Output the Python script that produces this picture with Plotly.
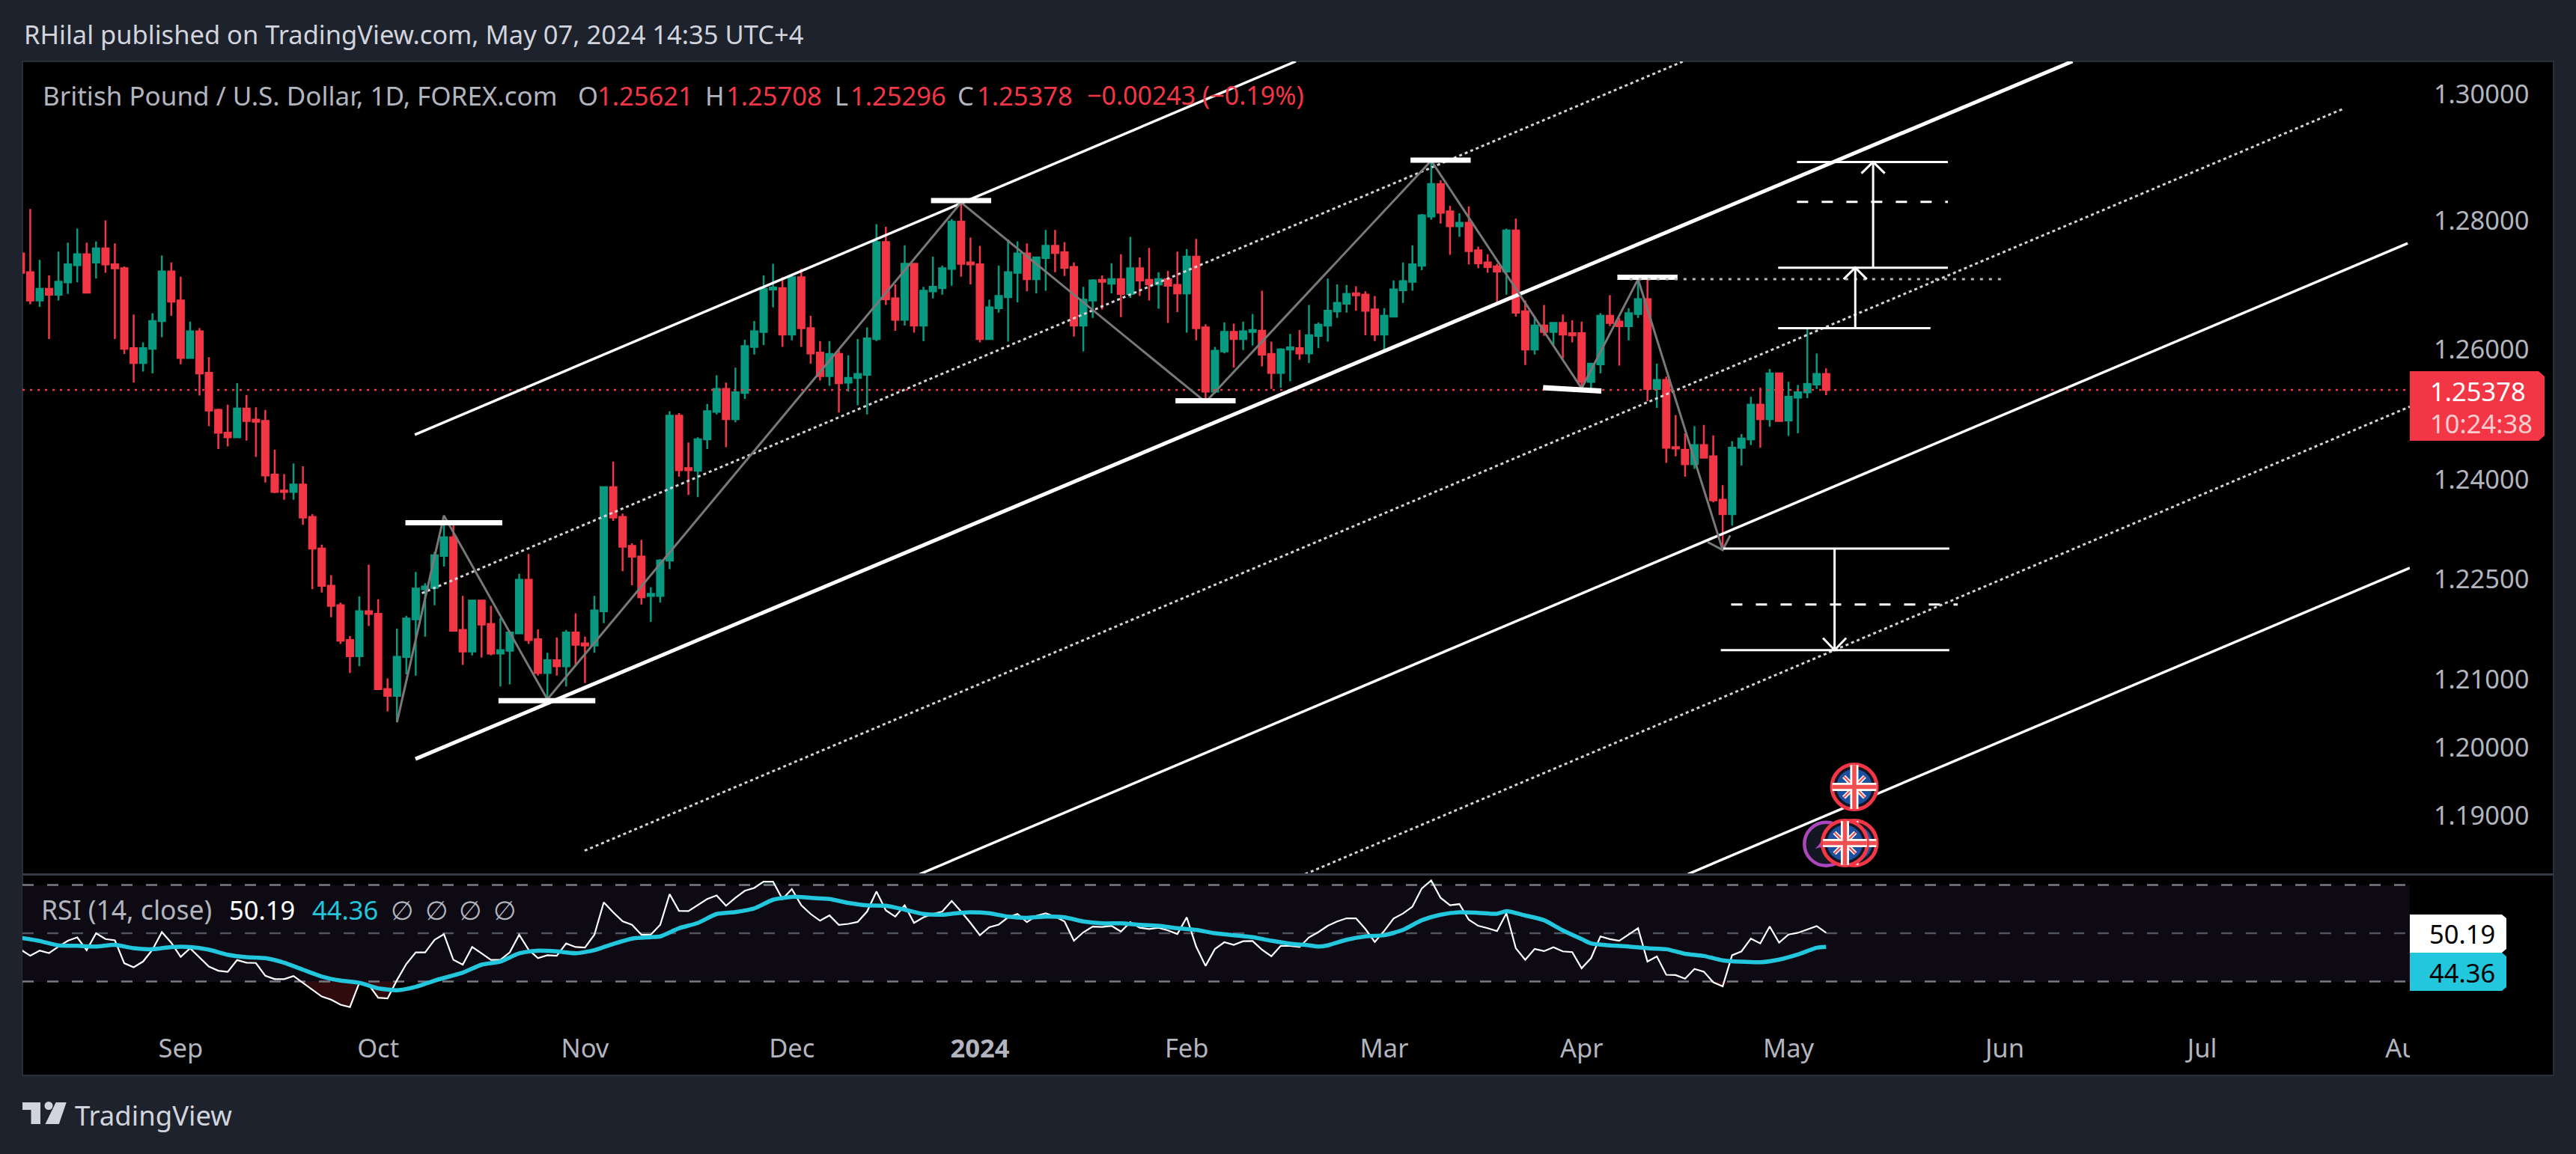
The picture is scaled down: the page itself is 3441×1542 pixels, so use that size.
import math
import plotly.graph_objects as go

W, H = 3441, 1542

# ---------- price data (daily GBP/USD bars) ----------
opens = [1.2749,1.2720,1.2676,1.2694,1.2685,1.2704,1.2731,1.2748,1.2735,1.2757,
1.2732,1.2726,1.2602,1.2579,1.2601,1.2644,1.2721,1.2676,1.2587,1.2628,
1.2564,1.2507,1.2472,1.2465,1.2509,1.2492,1.2490,1.2408,1.2384,1.2382,
1.2393,1.2344,1.2296,1.2240,1.2211,1.2159,1.2135,1.2202,1.2198,1.2086,
1.2076,1.2134,1.2190,1.2235,1.2237,1.2285,1.2313,1.2174,1.2142,1.2218,
1.2183,1.2139,1.2143,1.2169,1.2249,1.2160,1.2110,1.2129,1.2120,1.2170,
1.2154,1.2151,1.2202,1.2389,1.2344,1.2300,1.2284,1.2225,1.2225,1.2278,
1.2498,1.2418,1.2414,1.2462,1.2504,1.2539,1.2493,1.2533,1.2604,1.2627,
1.2693,1.2695,1.2623,1.2712,1.2633,1.2595,1.2559,1.2593,1.2549,1.2556,
1.2561,1.2616,1.2767,1.2679,1.2646,1.2733,1.2637,1.2690,1.2695,1.2725,
1.2799,1.2735,1.2732,1.2616,1.2664,1.2681,1.2719,1.2749,1.2709,1.2742,
1.2761,1.2751,1.2728,1.2637,1.2676,1.2708,1.2702,1.2709,1.2686,1.2726,
1.2708,1.2701,1.2709,1.2700,1.2687,1.2744,1.2634,1.2535,1.2597,1.2627,
1.2616,1.2627,1.2629,1.2593,1.2564,1.2600,1.2602,1.2594,1.2621,1.2637,
1.2659,1.2671,1.2687,1.2685,1.2662,1.2623,1.2651,1.2692,1.2705,1.2730,
1.2807,1.2858,1.2815,1.2792,1.2797,1.2754,1.2735,1.2729,1.2721,1.2785,
1.2659,1.2600,1.2637,1.2627,1.2641,1.2625,1.2625,1.2550,1.2577,1.2652,
1.2643,1.2636,1.2655,1.2678,1.2539,1.2553,1.2450,1.2446,1.2424,1.2453,
1.2436,1.2370,1.2348,1.2449,1.2462,1.2515,1.2493,1.2563,1.2491,1.2526,
1.2534,1.2546,1.25621]
highs = [1.2749,1.2819,1.2739,1.2715,1.2752,1.2766,1.2788,1.2766,1.2768,1.2801,
1.2765,1.2729,1.2654,1.2611,1.2656,1.2746,1.2735,1.2713,1.2643,1.2633,
1.2588,1.2509,1.2515,1.2548,1.2530,1.2511,1.2507,1.2446,1.2409,1.2425,
1.2421,1.2348,1.2302,1.2256,1.2215,1.2165,1.2224,1.2272,1.2220,1.2102,
1.2176,1.2195,1.2261,1.2244,1.2291,1.2337,1.2332,1.2225,1.2218,1.2218,
1.2210,1.2192,1.2172,1.2258,1.2288,1.2175,1.2140,1.2163,1.2174,1.2199,
1.2164,1.2225,1.2389,1.2428,1.2349,1.2304,1.2309,1.2238,1.2280,1.2505,
1.2502,1.2457,1.2465,1.2516,1.2560,1.2549,1.2572,1.2615,1.2644,1.2715,
1.2733,1.2712,1.2716,1.2725,1.2652,1.2613,1.2613,1.2601,1.2591,1.2616,
1.2634,1.2795,1.2791,1.2701,1.2762,1.2733,1.2697,1.2744,1.2730,1.2803,
1.2829,1.2774,1.2761,1.2677,1.2730,1.2771,1.2768,1.2765,1.2744,1.2786,
1.2786,1.2767,1.2735,1.2697,1.2709,1.2715,1.2734,1.2748,1.2775,1.2743,
1.2758,1.2720,1.2722,1.2752,1.2756,1.2772,1.2639,1.2604,1.2642,1.2640,
1.2643,1.2655,1.2691,1.2612,1.2602,1.2624,1.2630,1.2669,1.2642,1.2710,
1.2701,1.2700,1.2698,1.2690,1.2683,1.2664,1.2707,1.2735,1.2762,1.2811,
1.2895,1.2864,1.2824,1.2812,1.2823,1.2760,1.2748,1.2733,1.2788,1.2804,
1.2676,1.2652,1.2669,1.2641,1.2654,1.2645,1.2643,1.2579,1.2656,1.2684,
1.2649,1.2664,1.2709,1.2708,1.2578,1.2558,1.2499,1.2471,1.2482,1.2484,
1.2468,1.2392,1.2459,1.2470,1.2527,1.2541,1.2570,1.2564,1.2550,1.2545,
1.2634,1.2594,1.25708]
lows = [1.2719,1.2670,1.2666,1.2616,1.2676,1.2686,1.2704,1.2688,1.2710,1.2719,
1.2616,1.2593,1.2549,1.2566,1.2563,1.2619,1.2652,1.2577,1.2586,1.2529,
1.2482,1.2447,1.2451,1.2465,1.2460,1.2435,1.2396,1.2380,1.2370,1.2370,
1.2332,1.2235,1.2230,1.2193,1.2153,1.2110,1.2120,1.2180,1.2086,1.2053,
1.2037,1.2108,1.2106,1.2164,1.2211,1.2269,1.2172,1.2122,1.2136,1.2133,
1.2136,1.2090,1.2093,1.2169,1.2153,1.2106,1.2071,1.2106,1.2090,1.2121,
1.2095,1.2140,1.2184,1.2338,1.2262,1.2241,1.2212,1.2186,1.2215,1.2265,
1.2405,1.2377,1.2374,1.2447,1.2500,1.2450,1.2488,1.2524,1.2592,1.2607,
1.2665,1.2604,1.2614,1.2604,1.2578,1.2552,1.2544,1.2503,1.2535,1.2514,
1.2500,1.2613,1.2669,1.2629,1.2637,1.2626,1.2613,1.2679,1.2685,1.2699,
1.2713,1.2701,1.2611,1.2616,1.2657,1.2612,1.2673,1.2690,1.2687,1.2691,
1.2720,1.2714,1.2620,1.2597,1.2649,1.2662,1.2687,1.2650,1.2680,1.2683,
1.2676,1.2663,1.2641,1.2658,1.2626,1.2614,1.2518,1.2532,1.2594,1.2572,
1.2599,1.2606,1.2574,1.2539,1.2541,1.2551,1.2584,1.2579,1.2602,1.2612,
1.2649,1.2657,1.2660,1.2622,1.2613,1.2600,1.2651,1.2672,1.2691,1.2723,
1.2802,1.2796,1.2747,1.2775,1.2732,1.2726,1.2719,1.2669,1.2685,1.2651,
1.2576,1.2592,1.2621,1.2606,1.2586,1.2611,1.2538,1.2539,1.2563,1.2636,
1.2575,1.2614,1.2649,1.2520,1.2510,1.2426,1.2436,1.2405,1.2417,1.2433,
1.2366,1.2298,1.2331,1.2422,1.2453,1.2449,1.2481,1.2490,1.2467,1.2471,
1.2525,1.2539,1.25296]
closes = [1.2719,1.2676,1.2694,1.2685,1.2705,1.2732,1.2748,1.2688,1.2757,1.2732,
1.2726,1.2601,1.2579,1.2602,1.2644,1.2721,1.2674,1.2587,1.2628,1.2563,
1.2506,1.2472,1.2465,1.2509,1.2490,1.2489,1.2407,1.2382,1.2382,1.2393,
1.2343,1.2296,1.2240,1.2210,1.2158,1.2135,1.2202,1.2198,1.2086,1.2076,
1.2134,1.2191,1.2236,1.2239,1.2286,1.2313,1.2173,1.2142,1.2218,1.2182,
1.2139,1.2144,1.2170,1.2249,1.2159,1.2110,1.2129,1.2120,1.2170,1.2152,
1.2151,1.2203,1.2389,1.2343,1.2299,1.2284,1.2223,1.2228,1.2278,1.2498,
1.2415,1.2415,1.2462,1.2505,1.2539,1.2493,1.2534,1.2605,1.2628,1.2694,
1.2696,1.2623,1.2712,1.2633,1.2594,1.2559,1.2593,1.2548,1.2556,1.2562,
1.2617,1.2767,1.2678,1.2646,1.2733,1.2637,1.2691,1.2697,1.2726,1.2799,
1.2733,1.2732,1.2616,1.2665,1.2683,1.2720,1.2749,1.2709,1.2743,1.2761,
1.2750,1.2727,1.2637,1.2677,1.2707,1.2705,1.2709,1.2686,1.2726,1.2707,
1.2701,1.2709,1.2699,1.2687,1.2744,1.2633,1.2535,1.2598,1.2627,1.2616,
1.2628,1.2630,1.2592,1.2564,1.2600,1.2603,1.2594,1.2622,1.2638,1.2660,
1.2672,1.2686,1.2684,1.2660,1.2623,1.2652,1.2693,1.2706,1.2732,1.2809,
1.2858,1.2813,1.2792,1.2797,1.2753,1.2734,1.2728,1.2721,1.2785,1.2657,
1.2600,1.2637,1.2627,1.2641,1.2623,1.2622,1.2550,1.2578,1.2652,1.2641,
1.2636,1.2656,1.2678,1.2539,1.2553,1.2449,1.2448,1.2424,1.2453,1.2434,
1.2369,1.2348,1.2449,1.2463,1.2515,1.2493,1.2563,1.2490,1.2527,1.2534,
1.2547,1.2562,1.25378]
bars = list(range(len(closes)))

# ---------- RSI ----------
rsi = [43.2,40.7,42.8,41.8,44.5,46.9,48.3,43.0,50.0,47.6,
47.1,37.6,35.9,38.3,43.2,50.5,46.1,40.2,43.8,40.1,
36.2,34.5,34.0,38.9,37.8,37.7,32.4,31.0,31.0,32.3,
29.5,26.6,23.8,22.5,20.4,19.4,29.5,28.7,23.3,23.0,
30.6,37.3,42.1,42.1,47.3,49.6,39.0,37.0,44.3,41.7,
39.0,39.0,42.1,49.4,43.2,39.7,40.9,40.7,45.8,44.3,
44.1,49.4,62.8,58.7,55.0,53.5,49.4,49.4,53.5,66.2,
59.3,59.2,61.8,64.2,65.7,61.4,64.7,67.6,68.8,71.4,
71.4,64.2,68.3,61.6,58.0,55.2,57.4,53.5,53.9,54.7,
59.0,67.3,59.5,56.9,61.6,54.3,56.6,58.0,59.0,63.4,
59.0,54.3,49.2,52.5,53.6,56.6,58.0,54.6,57.2,58.3,
56.9,54.9,46.9,50.4,52.8,52.6,53.1,50.7,54.6,52.3,
51.8,52.3,51.2,49.7,56.6,44.5,36.5,43.5,46.3,45.2,
46.7,46.8,43.2,40.5,44.8,44.8,44.3,48.3,50.5,53.1,
54.9,56.2,56.2,51.8,46.4,51.0,56.1,58.2,61.0,68.6,
71.9,64.7,61.6,62.1,55.6,53.1,52.1,50.9,58.3,43.8,
39.0,43.5,42.6,44.2,42.5,42.2,35.5,39.7,48.7,47.6,
46.9,49.4,52.1,38.3,40.4,32.8,32.7,31.2,35.2,34.1,
29.7,28.0,40.9,42.5,47.8,45.8,52.8,46.1,49.5,50.2,
51.7,53.0,50.19]
rsi_ma_bars = [0,2,4,6,8,10,12,14,16,18,20,22,24,26,28,30,32,34,36,38,40,42,44,47,49,51,53,55,57,59,
61,63,65,67,68,70,72,74,76,78,80,82,84,86,88,90,92,94,96,98,100,101,103,105,107,109,111,113,115,117,
119,121,123,125,127,129,131,133,135,137,138,139,141,143,145,147,149,151,153,155,157,158,160,162,164,166,167,169,171,173,
175,177,179,181,183,185,187,189,191,192]
rsi_ma = [48.1,46.8,45.0,44.8,44.5,45.2,43.8,43.4,44.3,44.3,43.2,41.1,40.1,39.7,37.8,34.9,32.1,30.4,29.5,27.2,26.4,27.8,30.4,33.7,37.0,38.3,41.7,42.8,42.5,41.7,
43.0,45.6,47.8,48.4,48.7,52.1,54.3,58.0,58.8,60.3,63.9,65.1,64.7,64.2,62.6,61.6,61.4,59.8,58.0,57.7,58.5,58.7,58.3,56.9,56.4,56.9,56.6,54.9,54.1,54.1,
53.5,53.1,52.1,51.4,50.0,49.2,48.4,46.9,45.7,45.0,44.5,45.0,47.3,48.7,49.2,51.4,55.4,57.7,58.7,58.5,58.1,59.2,57.4,55.4,51.2,47.6,45.8,45.0,44.5,43.8,
43.4,41.5,40.6,38.8,38.2,38.0,39.1,41.2,44.0,44.36]

# ---------- axis ticks ----------
price_ticks = [1.19,1.20,1.21,1.225,1.24,1.26,1.28,1.30]
price_tick_labels = ["1.19000","1.20000","1.21000","1.22500","1.24000","1.26000","1.28000","1.30000"]
month_bars = [17,38,60,82,102,124,145,166,188,211,232,254.05]
month_labels = ["Sep","Oct","Nov","Dec","<b>2024</b>","Feb","Mar","Apr","May","Jun","Jul","Aug"]
x_range = [0.172,254.08]
price_range = [1.1815,1.3053]
rsi_range = [12.5,73.9]
last_price = 1.25378

# ---------- drawings: (bar, price) endpoints ----------
channel_solid = [([41.9,135.6],[1.2469,1.3053],3.5),
                 ([41.97,218.2],[1.1983,1.3053],5),
                 ([95.6,253.85],[1.1815,1.2765],3.5),
                 ([177.3,254.08],[1.1815,1.2267],3.5)]
channel_dotted = [([42.65,176.8],[1.2229,1.3053]),
                  ([59.96,247.1],[1.1849,1.2978]),
                  ([136.6,254.08],[1.1815,1.2512])]
zigzag_bars = [40,45,56,100,126,150,166,172,181]
zigzag_prices = [1.2037,1.2346,1.2071,1.2829,1.2519,1.2895,1.2540,1.2709,1.2294]
zig_head_bars = [179.4,181,181.8]
zig_head_prices = [1.2306,1.2294,1.2316]
swing_levels = [([40.9,51.2],[1.2335,1.2335]),
                ([50.8,61.1],[1.2069,1.2069]),
                ([96.8,103.2],[1.2832,1.2832]),
                ([122.8,129.2],[1.2521,1.2521]),
                ([147.8,154.2],[1.2896,1.2896]),
                ([161.9,168.1],[1.2541,1.2536]),
                ([169.8,176.2],[1.2712,1.2712])]
target_solid = [([188.9,204.95],1.2893),([186.9,204.95],1.2727),([186.9,203.1],1.2633),
                ([181.07,205.1],1.2296),([180.8,205.1],1.2144)]
target_dashed = [([188.9,204.95],1.2830),([181.9,206.0],1.2212)]
level_dotted = ([171.1,210.7],1.2709)
arrows = [(195.1,1.2633,1.2727,1.2709),(197.0,1.2727,1.2893,1.2875),(192.9,1.2296,1.2144,1.2162)]
arrow_half_bars = 1.24
uk_event_bars = [195,195,194]
uk_event_prices = [1.19419,1.18602,1.18602]
other_event_bar = [192]
other_event_price = [1.18587]

BG = "#1e222d"
UP, DOWN = "#089981", "#f23645"
CYAN = "#22c7dd"
TXT = "#b2b5be"
FONT = "Noto Sans"
FS = 34.5
fig = go.Figure()

def X(px): return px/W
def Y(py): return 1-py/H

def line(xs, ys, color="#ffffff", width=3, dash="solid"):
    fig.add_trace(go.Scatter(x=xs, y=ys, mode="lines", xaxis="x", yaxis="y", hoverinfo="skip",
                             line=dict(color=color, width=width, dash=dash), showlegend=False))

fig.add_trace(go.Candlestick(x=bars, open=opens, high=highs, low=lows, close=closes, xaxis="x", yaxis="y",
    increasing=dict(line=dict(color=UP, width=2.5), fillcolor=UP),
    decreasing=dict(line=dict(color=DOWN, width=2.5), fillcolor=DOWN),
    whiskerwidth=0, showlegend=False, hoverinfo="skip"))

line(x_range, [last_price, last_price], DOWN, 2.5, "3px,7px")
for xs, ys in channel_dotted:
    line(xs, ys, "#d4d4d8", 3, "4px,4px")
for xs, ys, w in channel_solid:
    line(xs, ys, "#ffffff", w)
line(zigzag_bars, zigzag_prices, "#787878", 3)
line(zig_head_bars, zig_head_prices, "#787878", 3)
for xs, ys in swing_levels:
    line(xs, ys, "#ffffff", 7)
for xs, p in target_solid:
    line(xs, [p, p], "#ffffff", 3)
for xs, p in target_dashed:
    line(xs, [p, p], "#ffffff", 3, "15px,18px")
line(level_dotted[0], [level_dotted[1]]*2, "#b8b8bc", 3, "4px,8px")
for b, p0, p1, ph in arrows:
    line([b, b], [p0, p1], "#ffffff", 3)
    line([b-arrow_half_bars, b, b+arrow_half_bars], [ph, p1, ph], "#ffffff", 3)

# events
def ev(xs, ys, sym, size, color, lw=0, lc=None):
    fig.add_trace(go.Scatter(x=xs, y=ys, mode="markers", xaxis="x", yaxis="y", hoverinfo="skip", showlegend=False,
        cliponaxis=False,
        marker=dict(symbol=sym, size=size, color=color, line=dict(width=lw, color=lc or color))))
ev(other_event_bar, other_event_price, "circle", 58, "#131722", 4.5, "#ab47bc")
ev([b-0.3 for b in other_event_bar], other_event_price, "star-triangle-up", 16, "#ab47bc")
for b, p in zip(uk_event_bars, uk_event_prices):
    ev([b],[p],"circle",60,"#131722",5,DOWN)
    ev([b],[p],"circle",48,"#1c4fa0")
    ev([b],[p],"x-thin",28,"#fff",5.5,"#ffffff")
    ev([b],[p],"x-thin",28,"#f05050",2.2,"#f05050")
    ev([b],[p],"cross-thin",42,"#fff",11,"#ffffff")
    ev([b],[p],"cross-thin",42,"#f05050",5.5,"#f05050")

# RSI pane
below = [min(v,30) for v in rsi]
above = [max(v,70) for v in rsi]
fig.add_trace(go.Scatter(x=bars,y=[30]*len(bars),mode="lines",line=dict(width=0),xaxis="x2",yaxis="y2",hoverinfo="skip",showlegend=False))
fig.add_trace(go.Scatter(x=bars,y=below,mode="lines",line=dict(width=0),fill="tonexty",fillcolor="rgba(242,54,69,0.2)",xaxis="x2",yaxis="y2",hoverinfo="skip",showlegend=False))
fig.add_trace(go.Scatter(x=bars,y=[70]*len(bars),mode="lines",line=dict(width=0),xaxis="x2",yaxis="y2",hoverinfo="skip",showlegend=False))
fig.add_trace(go.Scatter(x=bars,y=above,mode="lines",line=dict(width=0),fill="tonexty",fillcolor="rgba(8,153,129,0.2)",xaxis="x2",yaxis="y2",hoverinfo="skip",showlegend=False))
for lvl, col in [(70,"#787b86"),(50,"#50535e"),(30,"#787b86")]:
    fig.add_trace(go.Scatter(x=x_range,y=[lvl,lvl],mode="lines",line=dict(color=col,width=2.5,dash="15px,18px"),xaxis="x2",yaxis="y2",hoverinfo="skip",showlegend=False))
fig.add_trace(go.Scatter(x=bars,y=rsi,mode="lines",line=dict(color="#ffffff",width=2.2),xaxis="x2",yaxis="y2",hoverinfo="skip",showlegend=False))
fig.add_trace(go.Scatter(x=rsi_ma_bars,y=rsi_ma,mode="lines",line=dict(color=CYAN,width=5.5,shape="spline",smoothing=0.6),xaxis="x2",yaxis="y2",hoverinfo="skip",showlegend=False))

# frame shapes
PL, PR, FR = 30, 3219, 3411
shapes = [
    dict(type="rect",xref="paper",yref="paper",x0=X(PL),x1=X(FR),y0=Y(82),y1=Y(1437),fillcolor="#000000",line=dict(color="#2a2e39",width=2),layer="below"),
    dict(type="rect",xref="paper",yref="paper",x0=X(PL),x1=X(PR),y0=Y(1183),y1=Y(1312),fillcolor="#0d0a14",line=dict(width=0),layer="below"),
    dict(type="line",xref="paper",yref="paper",x0=X(PL),x1=X(FR),y0=Y(1168.5),y1=Y(1168.5),line=dict(color="#363a45",width=3),layer="above"),
    dict(type="rect",xref="paper",yref="paper",x0=X(PR),x1=X(3262),y0=Y(1376),y1=Y(1428),fillcolor="#000000",line=dict(width=0),layer="above"),
]
def px_path(pts):
    return "M"+" L".join(f"{X(a):.6f},{Y(b):.6f}" for a,b in pts)+" Z"
def poly(pts,color):
    shapes.append(dict(type="path",xref="paper",yref="paper",path=px_path(pts),fillcolor=color,line=dict(width=0),layer="above"))
# price tag and RSI tags
poly([(3219,496),(3391,496),(3399,503),(3399,582),(3391,589),(3219,589)],DOWN)
poly([(3219,1222),(3342,1222),(3348,1227),(3348,1268),(3342,1273),(3219,1273)],"#ffffff")
poly([(3219,1273),(3342,1273),(3348,1278),(3348,1319),(3342,1324),(3219,1324)],CYAN)
# TradingView logo
LOGO="#d1d4dc"
poly([(30,1473),(54,1473),(54,1502),(41.5,1502),(41.5,1483),(30,1483)],LOGO)
poly([(74.6,1473),(88.7,1473),(78.8,1502),(60.5,1502)],LOGO)
shapes.append(dict(type="circle",xref="paper",yref="paper",x0=X(59.5),x1=X(70.5),y0=Y(1472),y1=Y(1483),fillcolor=LOGO,line=dict(width=0),layer="above"))

annots=[]
def t(px,py,text,color=TXT,size=FS,anchor="left"):
    annots.append(dict(xref="paper",yref="paper",x=X(px),y=Y(py),text=text,showarrow=False,xanchor=anchor,yanchor="middle",
                       font=dict(family=FONT,size=size,color=color),bgcolor="rgba(0,0,0,0)",borderpad=0,align="left"))
t(31,45,"RHilal published on TradingView.com, May 07, 2024 14:35 UTC+4","#d1d4dc",34.5)
t(56,127,"British Pound / U.S. Dollar, 1D, FOREX.com",TXT,35)
t(771,127,"O"); t(797,127,"1.25621",DOWN)
t(941,127,"H"); t(969,127,"1.25708",DOWN)
t(1114,127,"L"); t(1135,127,"1.25296",DOWN)
t(1278,127,"C"); t(1304,127,"1.25378",DOWN)
t(1451,127,"−0.00243 (−0.19%)",DOWN,34)
t(54,1215,"RSI (14, close)",TXT,35.5)
t(305,1215,"50.19","#ffffff"); t(416,1215,"44.36",CYAN)
for xx in (537,583,628,674):
    t(xx,1215,"∅",TXT,FS,"center")
t(3245,522,"1.25378","#ffffff")
t(3245,565,"10:24:38","rgba(255,255,255,0.75)")
t(3244,1247,"50.19","#000000")
t(3244,1299,"44.36","#000000")
t(99,1490,"TradingView","#d1d4dc",36.5)

fig.update_layout(
    width=W,height=H,margin=dict(l=0,r=0,t=0,b=0,autoexpand=False),paper_bgcolor=BG,plot_bgcolor="rgba(0,0,0,0)",
    showlegend=False,boxgap=0.32,boxgroupgap=0,hovermode=False,shapes=shapes,annotations=annots,
    font=dict(family=FONT,color=TXT,size=FS),
    xaxis=dict(domain=[X(PL),X(PR)],range=x_range,showgrid=False,zeroline=False,showticklabels=False,ticks="",
               rangeslider=dict(visible=False),anchor="y",showline=False),
    yaxis=dict(domain=[Y(1168),Y(82)],type="log",range=[math.log10(price_range[0]),math.log10(price_range[1])],
               side="right",anchor="x",showgrid=False,zeroline=False,tickmode="array",tickvals=price_ticks,ticktext=price_tick_labels,
               ticks="outside",ticklen=24,tickcolor="rgba(0,0,0,0)",tickfont=dict(family=FONT,size=FS,color=TXT),showline=False),
    xaxis2=dict(domain=[X(PL),X(PR)],range=x_range,showgrid=False,zeroline=False,anchor="y2",tickmode="array",
                tickvals=month_bars,ticktext=month_labels,ticks="outside",ticklen=3,tickcolor="rgba(0,0,0,0)",
                tickangle=0,tickfont=dict(family=FONT,size=FS,color=TXT),showline=False),
    yaxis2=dict(domain=[Y(1368),Y(1170)],range=rsi_range,anchor="x2",side="right",showgrid=False,zeroline=False,showticklabels=False,ticks="",showline=False),
)
fig.write_html("out.html",config=dict(displayModeBar=False),
               post_script="document.body.style.margin='0';document.body.style.background='#1e222d';document.body.style.overflow='hidden';")
